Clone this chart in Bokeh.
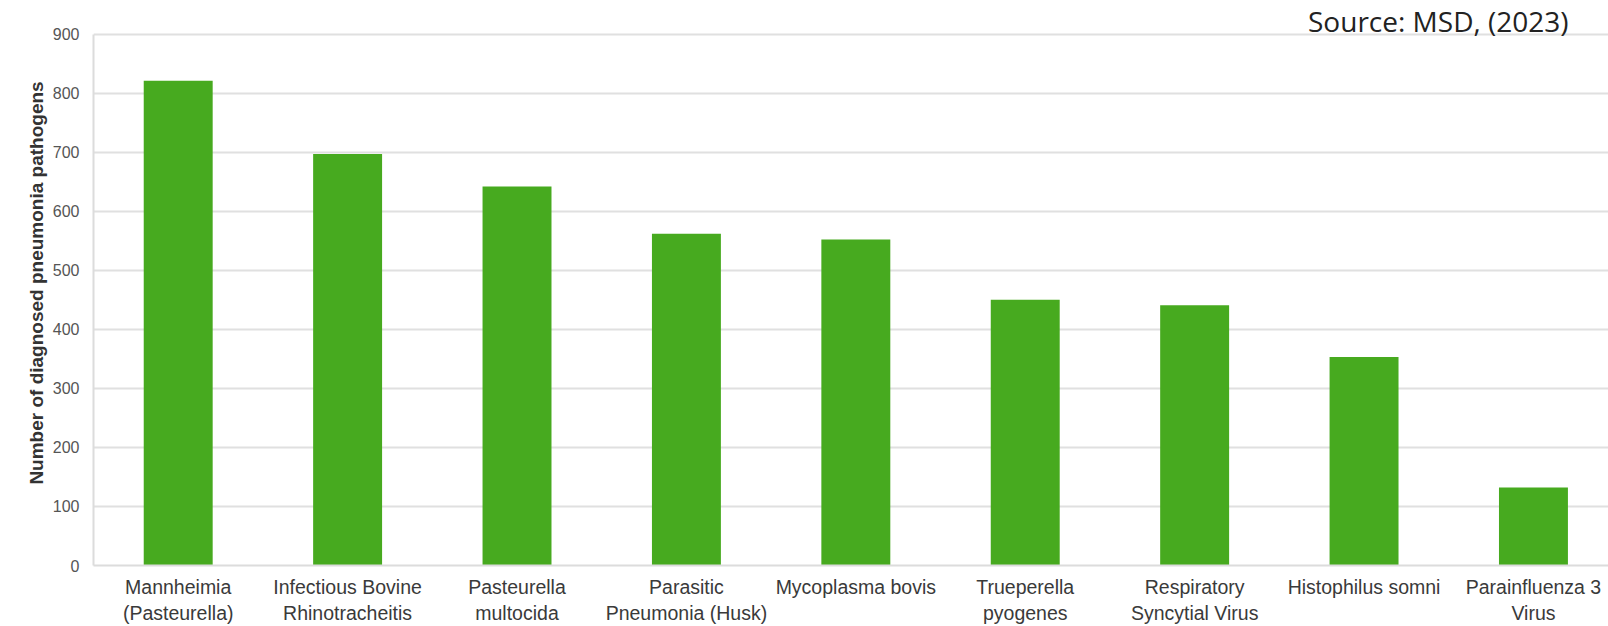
from bokeh.plotting import figure
from bokeh.models import Range1d, FixedTicker, Label, ColumnDataSource
from bokeh.embed import file_html
from bokeh.resources import INLINE

categories = [
    "Mannheimia\n(Pasteurella)",
    "Infectious Bovine\nRhinotracheitis",
    "Pasteurella\nmultocida",
    "Parasitic\nPneumonia (Husk)",
    "Mycoplasma bovis",
    "Trueperella\npyogenes",
    "Respiratory\nSyncytial Virus",
    "Histophilus somni",
    "Parainfluenza 3\nVirus",
]
values = [821, 697, 642, 562, 552, 450, 441, 353, 132]
y_ticks = [0, 100, 200, 300, 400, 500, 600, 700, 800, 900]
source_text = "Source: MSD, (2023)"

xs = [i + 0.5 for i in range(len(categories))]
src = ColumnDataSource(dict(x=xs, top=values, name=categories))

p = figure(width=1608, height=626, output_backend="svg", toolbar_location=None,
           x_range=Range1d(0, 8.943), y_range=Range1d(0, 957),
           min_border_left=93, min_border_right=0, min_border_top=0, min_border_bottom=56)
p.outline_line_color = None
p.background_fill_color = "white"
p.border_fill_color = "white"

p.vbar(x="x", top="top", width=0.407, source=src, color="#47AA1F", line_color=None)

# axes
p.xaxis.ticker = FixedTicker(ticks=xs)
p.xaxis.major_label_overrides = {x: c for x, c in zip(xs, categories)}
p.xaxis.major_label_text_font = "Liberation Sans"
p.xaxis.major_label_text_font_size = "19.5px"
p.xaxis.major_label_text_color = "#3a3a3a"
p.xaxis.major_label_standoff = 4
p.xaxis.major_tick_line_color = None
p.xaxis.minor_tick_line_color = None
p.xaxis.axis_line_color = "#dcdcdc"
p.xaxis.axis_line_width = 2

p.yaxis.ticker = FixedTicker(ticks=y_ticks)
p.yaxis.bounds = (0, 900)
p.yaxis.major_label_text_font = "Liberation Sans"
p.yaxis.major_label_text_font_size = "16px"
p.yaxis.major_label_text_color = "#555555"
p.yaxis.major_label_standoff = 8
p.yaxis.major_tick_line_color = None
p.yaxis.minor_tick_line_color = None
p.yaxis.axis_line_color = "#dcdcdc"
p.yaxis.axis_line_width = 2
p.yaxis.axis_label = "Number of diagnosed pneumonia pathogens"
p.yaxis.axis_label_text_font = "Liberation Sans"
p.yaxis.axis_label_text_font_style = "bold"
p.yaxis.axis_label_text_font_size = "19px"
p.yaxis.axis_label_text_color = "#333333"
p.yaxis.axis_label_standoff = 3

p.xgrid.grid_line_color = None
p.ygrid.ticker = FixedTicker(ticks=y_ticks)
p.ygrid.grid_line_color = "#e0e0e0"
p.ygrid.grid_line_width = 2

p.add_layout(Label(x=8.707, y=922, text=source_text, text_align="right",
                   text_baseline="alphabetic", text_font="Open Sans",
                   text_font_size="28px", text_color="#222222"))

open("out.html", "w").write(file_html(p, INLINE))
